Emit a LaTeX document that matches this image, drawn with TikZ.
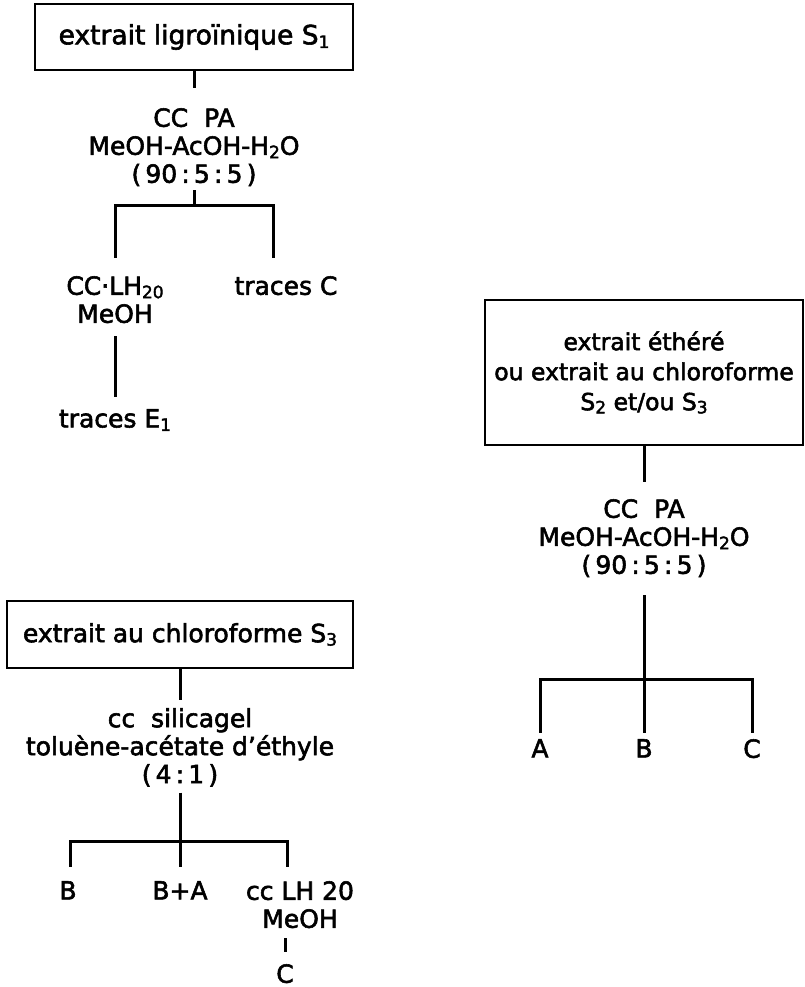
\documentclass[tikz,border=0pt]{standalone}
\usepackage{fontspec}
\setmainfont[FakeBold=2.2]{DejaVu Sans}
\newcommand{\lowsub}[1]{\raisebox{-0.25ex}{\fontsize{17}{17}\selectfont #1}}
\tikzset{
  ln/.style={line width=3pt},
  box/.style={draw, line width=2.6pt, inner sep=0pt},
  txt/.style={align=center, inner sep=0pt, font=\fontsize{25}{28}\selectfont},
}
\begin{document}
\begin{tikzpicture}[x=1pt,y=-1pt]
\path[use as bounding box, fill=white] (0,0) rectangle (804,987);

% ---------- top-left tree ----------
\node[box, minimum width=318pt, minimum height=66pt, font=\fontsize{26.5}{30}\selectfont] (S1) at (194,37) {extrait ligroïnique S\lowsub{1}};
\node[txt, anchor=north] (P1) at (194,108) {CC~~PA\\MeOH-AcOH-H\lowsub{2}O\\(\,90\,:\,5\,:\,5\,)};
\coordinate (J1) at (194,205);
\node[txt, anchor=north] (N1) at (115,276) {CC·LH\lowsub{20}\\MeOH};
\node[txt, anchor=north] (TC) at (286,276) {traces C};
\coordinate (R1) at (273,258);
\node[txt, anchor=north] (E1) at (115,409) {traces E\lowsub{1}};

\draw[ln, shorten >=20pt] (S1) -- (P1);
\draw[ln, shorten <=4pt] (P1) -- (J1);
\draw[ln, shorten >=18pt] (J1) -| (N1.north);
\draw[ln] (J1) -| (R1);
\draw[ln, shorten <=13pt, shorten >=12pt] (N1) -- (E1);

% ---------- right tree ----------
\node[box, minimum width=318pt, minimum height=145pt, align=center, font=\fontsize{23.5}{30}\selectfont] (S2) at (644,372.5) {extrait éthéré\\ou extrait au chloroforme\\S\lowsub{2} et/ou S\lowsub{3}};
\node[txt, anchor=north] (P2) at (644,499) {CC~~PA\\MeOH-AcOH-H\lowsub{2}O\\(\,90\,:\,5\,:\,5\,)};
\coordinate (J2) at (644,679);
\node[txt, anchor=north] (A2) at (540,739) {A};
\node[txt, anchor=north] (B2) at (644,739) {B};
\node[txt, anchor=north] (C2) at (752,739) {C};

\draw[ln, shorten >=17pt] (S2) -- (P2);
\draw[ln, shorten <=18pt] (P2) -- (J2);
\draw[ln, shorten >=6pt] (J2) -| (A2.north);
\draw[ln, shorten >=6pt] (J2) -- (B2.north);
\draw[ln, shorten >=6pt] (J2) -| (C2.north);

% ---------- bottom-left tree ----------
\node[box, minimum width=346pt, minimum height=67pt, font=\fontsize{25}{28}\selectfont] (S3) at (180,634.5) {extrait au chloroforme S\lowsub{3}};
\node[txt, anchor=north] (P3) at (180,708) {cc~~silicagel\\toluène-acétate d'éthyle\\(\,4\,:\,1\,)};
\coordinate (J3) at (180,841);
\node[txt, anchor=north] (B3) at (68,881) {B};
\node[txt, anchor=north] (BA3) at (180,881) {B+A};
\node[txt, anchor=north] (N3) at (300,881) {cc LH 20\\MeOH};
\coordinate (L3) at (70,867);
\coordinate (R3) at (287,867);
\coordinate (K3) at (285,938);
\node[txt, anchor=north] (C3) at (285,964) {C};

\draw[ln, shorten >=8pt] (S3) -- (P3);
\draw[ln, shorten <=6pt] (P3) -- (J3);
\draw[ln] (J3) -| (L3);
\draw[ln] (J3) -| (R3);
\draw[ln, shorten >=14pt] (J3) -- (BA3.north);
\draw[ln, shorten >=12pt] (K3) -- (C3.north);
\end{tikzpicture}
\end{document}
